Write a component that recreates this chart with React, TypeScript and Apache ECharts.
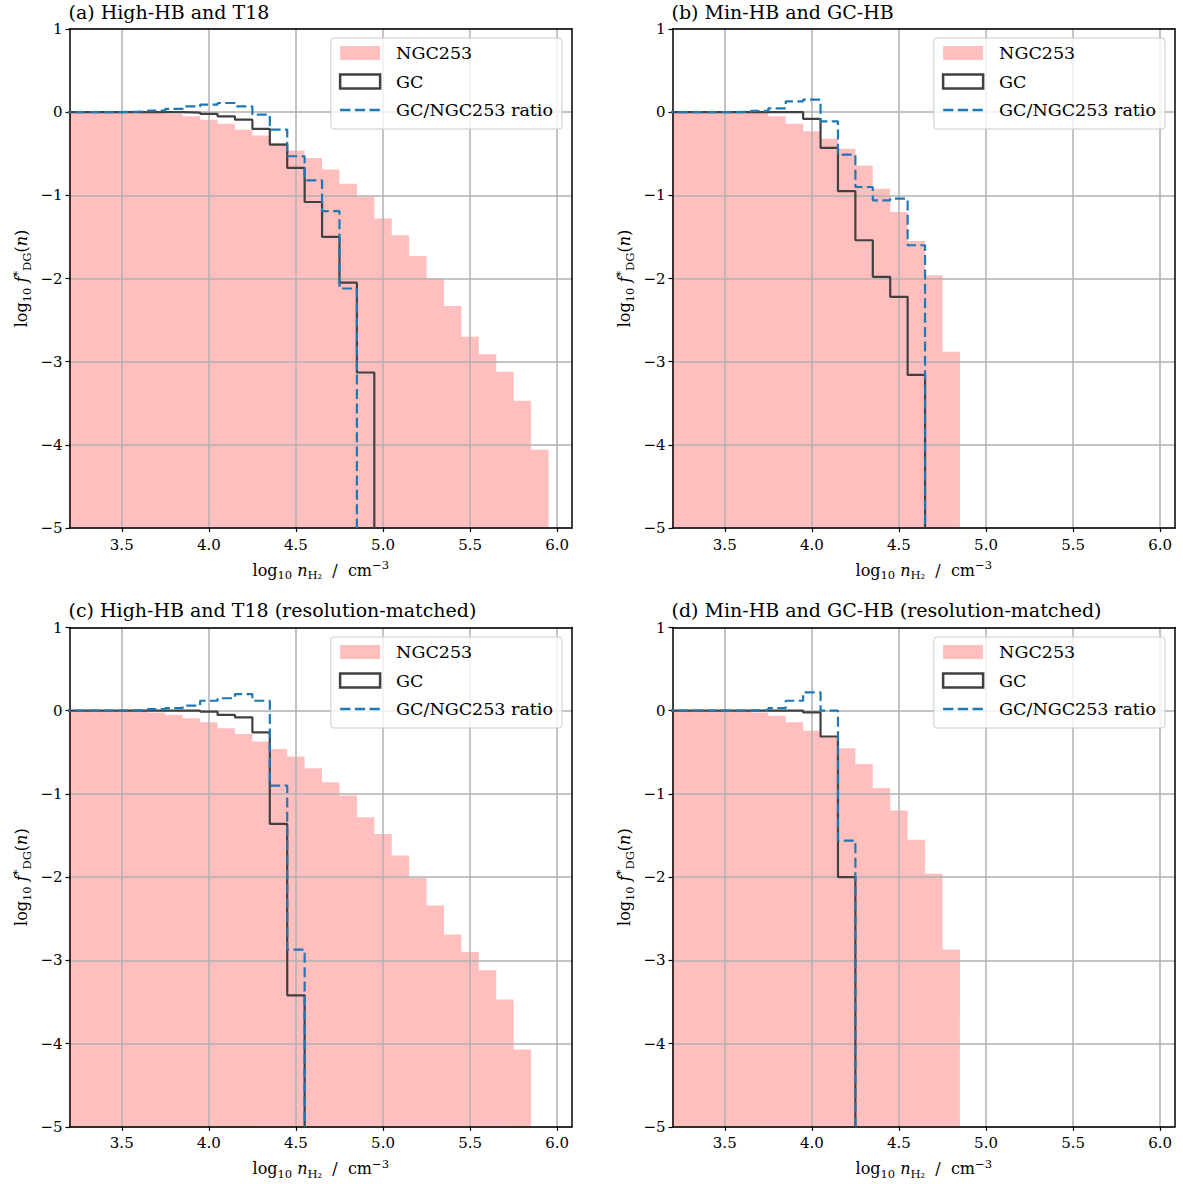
import React, { useEffect, useRef } from 'react';
import * as echarts from 'echarts';

// ---------- data ----------
const BIN_START = 3.15; // left edge of first histogram bin (log10 n)
const BIN_WIDTH = 0.1;
const X_MIN = 3.2;
const X_MAX = 6.085;
const Y_MIN = -5;
const Y_MAX = 1;
const X_TICKS = [3.5, 4.0, 4.5, 5.0, 5.5, 6.0];

const PANEL_TITLES = [
  '(a) High-HB and T18',
  '(b) Min-HB and GC-HB',
  '(c) High-HB and T18 (resolution-matched)',
  '(d) Min-HB and GC-HB (resolution-matched)',
];

// values per 0.1-dex bin, first bin centred at 3.2
const ngcA = [0, 0, 0, 0, 0, -0.01, -0.02, -0.05, -0.09, -0.14, -0.21, -0.28, -0.37, -0.46, -0.55, -0.69, -0.86, -1.02, -1.28, -1.48, -1.73, -2.0, -2.33, -2.7, -2.91, -3.12, -3.47, -4.06];
const gcA = [0, 0, 0, 0, 0, 0, 0, -0.005, -0.02, -0.05, -0.09, -0.2, -0.39, -0.67, -1.08, -1.5, -2.05, -3.13];
const ratioA = [0, 0, 0, 0.003, 0.01, 0.02, 0.04, 0.07, 0.09, 0.11, 0.07, -0.03, -0.21, -0.53, -0.82, -1.19, -2.12];

const ngcB = [0, 0, 0, 0, 0, -0.01, -0.05, -0.14, -0.23, -0.32, -0.44, -0.64, -0.92, -1.2, -1.55, -1.96, -2.88];
const gcB = [0, 0, 0, 0, 0, 0, 0, 0, -0.08, -0.43, -0.95, -1.54, -1.98, -2.22, -3.16];
const ratioB = [0, 0, 0, 0, 0.005, 0.015, 0.045, 0.13, 0.15, -0.11, -0.51, -0.9, -1.06, -1.04, -1.6];

const ngcC = [0, 0, 0, 0, -0.005, -0.02, -0.05, -0.09, -0.14, -0.21, -0.28, -0.37, -0.46, -0.55, -0.69, -0.86, -1.02, -1.28, -1.48, -1.74, -2.01, -2.34, -2.69, -2.9, -3.12, -3.47, -4.07];
const gcC = [0, 0, 0, 0, 0, 0, 0, 0, -0.01, -0.05, -0.08, -0.26, -1.36, -3.42];
const ratioC = [0, 0, 0, 0.003, 0.01, 0.02, 0.03, 0.06, 0.12, 0.15, 0.2, 0.12, -0.9, -2.87];

const ngcD = [0, 0, 0, 0, 0, -0.02, -0.06, -0.14, -0.24, -0.32, -0.45, -0.64, -0.93, -1.2, -1.55, -1.96, -2.87];
const gcD = [0, 0, 0, 0, 0, 0, 0, 0, -0.02, -0.31, -2.0];
const ratioD = [0, 0, 0, 0, 0.003, 0.01, 0.03, 0.12, 0.22, 0.0, -1.56];

// ---------- style ----------
const FONT = 'DejaVu Serif';
const PINK = '#ffbfbf';
const GC_COLOR = '#404040';
const BLUE = '#1f77b4';
const GRID_COLOR = '#b0b0b0';

const LAYOUT = [
  { left: 69.5, top: 29, width: 502.5, height: 499, legendRight: 621, legendTop: 38, titleTop: 2 },
  { left: 672.5, top: 29, width: 502.5, height: 499, legendRight: 18, legendTop: 38, titleTop: 2 },
  { left: 69.5, top: 627.5, width: 502.5, height: 499.3, legendRight: 621, legendTop: 637, titleTop: 600 },
  { left: 672.5, top: 627.5, width: 502.5, height: 499.3, legendRight: 18, legendTop: 637, titleTop: 600 },
];

const PANELS = [
  { ngc: ngcA, gc: gcA, ratio: ratioA },
  { ngc: ngcB, gc: gcB, ratio: ratioB },
  { ngc: ngcC, gc: gcC, ratio: ratioC },
  { ngc: ngcD, gc: gcD, ratio: ratioD },
];

const DASH_ICON =
  'path://M0,0L40,0M0,14L40,14M0,5.8H10.3V8.2H0ZM14.7,5.8H25V8.2H14.7ZM29.4,5.8H39.7V8.2H29.4Z';

function stepData(values: number[]) {
  const pts: number[][] = values.map((v, i) => [BIN_START + i * BIN_WIDTH, v]);
  const end = BIN_START + values.length * BIN_WIDTH;
  pts.push([end, values[values.length - 1]]);
  pts.push([end, Y_MIN]);
  return pts;
}

const rich = {
  sub: { fontFamily: FONT, fontSize: 11.5, lineHeight: 11, verticalAlign: 'bottom', color: '#000' },
  sup: { fontFamily: FONT, fontSize: 11.5, lineHeight: 11, verticalAlign: 'top', color: '#000' },
  it: { fontFamily: FONT, fontSize: 16, lineHeight: 22, fontStyle: 'italic', color: '#000' },
};

const X_NAME = 'log{sub|10} {it|n}{sub|H₂}  /  cm{sup|−3}';
const Y_NAME = 'log{sub|10} {it|f}{sup|*}{sub|DG}({it|n})';

function buildOption() {
  const grid = LAYOUT.map((g) => ({
    left: g.left,
    top: g.top,
    width: g.width,
    height: g.height,
    containLabel: false,
    outerBoundsMode: 'none',
  }));

  const xAxis: any[] = [];
  const yAxis: any[] = [];
  LAYOUT.forEach((_, i) => {
    xAxis.push({
      type: 'value',
      gridIndex: i,
      min: X_MIN,
      max: X_MAX,
      position: 'bottom',
      z: 3,
      axisLine: { show: true, onZero: false, lineStyle: { color: '#000', width: 1.5 } },
      axisTick: { show: true, customValues: X_TICKS, length: 4, lineStyle: { color: '#000', width: 1.2 } },
      axisLabel: {
        customValues: X_TICKS,
        formatter: (v: number) => v.toFixed(1),
        fontFamily: FONT,
        fontSize: 15,
        color: '#000',
        margin: 9,
      },
      splitLine: { show: true, lineStyle: { color: GRID_COLOR, width: 1.5 } },
      name: X_NAME,
      nameLocation: 'middle',
      nameGap: 31,
      nameTextStyle: { fontFamily: FONT, fontSize: 16, lineHeight: 22, color: '#000', rich },
    });
    yAxis.push({
      type: 'value',
      gridIndex: i,
      min: Y_MIN,
      max: Y_MAX,
      interval: 1,
      position: 'left',
      z: 3,
      axisLine: { show: true, onZero: false, lineStyle: { color: '#000', width: 1.5 } },
      axisTick: { show: true, length: 4, lineStyle: { color: '#000', width: 1.2 } },
      axisLabel: {
        formatter: (v: number) => (v < 0 ? '\u2212' + Math.abs(v) : String(v)),
        fontFamily: FONT,
        fontSize: 15,
        color: '#000',
        margin: 7,
      },
      splitLine: { show: true, lineStyle: { color: GRID_COLOR, width: 1.5 } },
      name: Y_NAME,
      nameLocation: 'middle',
      nameGap: 37,
      nameRotate: 90,
      nameTextStyle: { fontFamily: FONT, fontSize: 16, lineHeight: 22, color: '#000', rich },
    });
  });
  // frame: top and right spines
  LAYOUT.forEach((_, i) => {
    xAxis.push({
      type: 'value',
      gridIndex: i,
      min: X_MIN,
      max: X_MAX,
      position: 'top',
      z: 3,
      axisLine: { show: true, onZero: false, lineStyle: { color: '#000', width: 1.5 } },
      axisTick: { show: false },
      axisLabel: { show: false },
      splitLine: { show: false },
    });
    yAxis.push({
      type: 'value',
      gridIndex: i,
      min: Y_MIN,
      max: Y_MAX,
      position: 'right',
      z: 3,
      axisLine: { show: true, onZero: false, lineStyle: { color: '#000', width: 1.5 } },
      axisTick: { show: false },
      axisLabel: { show: false },
      splitLine: { show: false },
    });
  });

  const series: any[] = [];
  PANELS.forEach((p, i) => {
    series.push({
      name: 'NGC253',
      type: 'line',
      xAxisIndex: i,
      yAxisIndex: i,
      step: 'end',
      data: stepData(p.ngc),
      symbol: 'none',
      clip: true,
      lineStyle: { width: 0, opacity: 0, color: PINK },
      itemStyle: { color: PINK },
      areaStyle: { color: PINK, opacity: 1, origin: 'start' },
      z: 1,
      silent: true,
    });
    series.push({
      name: 'GC',
      type: 'line',
      xAxisIndex: i,
      yAxisIndex: i,
      step: 'end',
      data: stepData(p.gc),
      symbol: 'none',
      clip: true,
      lineStyle: { width: 2.2, color: GC_COLOR },
      itemStyle: { color: GC_COLOR },
      z: 4,
      silent: true,
    });
    series.push({
      name: 'GC/NGC253 ratio',
      type: 'line',
      xAxisIndex: i,
      yAxisIndex: i,
      step: 'end',
      data: stepData(p.ratio),
      symbol: 'none',
      clip: true,
      lineStyle: { width: 2.2, color: BLUE, type: [10, 4.4] },
      itemStyle: { color: BLUE },
      z: 5,
      silent: true,
    });
  });

  const legend = LAYOUT.map((g) => ({
    orient: 'vertical',
    right: g.legendRight,
    top: g.legendTop,
    itemWidth: 40,
    itemHeight: 14,
    itemGap: 8.5,
    padding: [5, 9, 9, 8],
    backgroundColor: 'rgba(255,255,255,0.8)',
    borderColor: '#cccccc',
    borderWidth: 1,
    borderRadius: 3,
    selectedMode: false,
    z: 10,
    textStyle: { fontFamily: FONT, fontSize: 17.5, color: '#000', lineHeight: 20, padding: [0, 0, 0, 11] },
    data: [
      { name: 'NGC253', icon: 'rect', itemStyle: { color: PINK, borderWidth: 0, opacity: 1 } },
      {
        name: 'GC',
        icon: 'rect',
        itemStyle: { color: 'rgba(255,255,255,0)', borderColor: GC_COLOR, borderWidth: 2.5, opacity: 1 },
      },
      { name: 'GC/NGC253 ratio', icon: DASH_ICON, itemStyle: { color: BLUE, borderWidth: 0, opacity: 1 } },
    ],
  }));

  const title = LAYOUT.map((g, i) => ({
    text: PANEL_TITLES[i],
    left: g.left - 1,
    top: g.titleTop,
    padding: 0,
    textStyle: { fontFamily: FONT, fontSize: 19, fontWeight: 'normal', color: '#000' },
  }));

  return {
    animation: false,
    backgroundColor: '#ffffff',
    title,
    legend,
    grid,
    xAxis,
    yAxis,
    series,
  };
}

export default function App() {
  const ref = useRef<HTMLDivElement>(null);
  useEffect(() => {
    if (!ref.current) return;
    const chart = echarts.init(ref.current, null, { renderer: 'svg' });
    chart.setOption(buildOption() as any);
    return () => chart.dispose();
  }, []);
  return (
    <div
      ref={ref}
      style={{ position: 'fixed', left: 0, top: 0, width: 1183, height: 1184, background: '#fff' }}
    />
  );
}
